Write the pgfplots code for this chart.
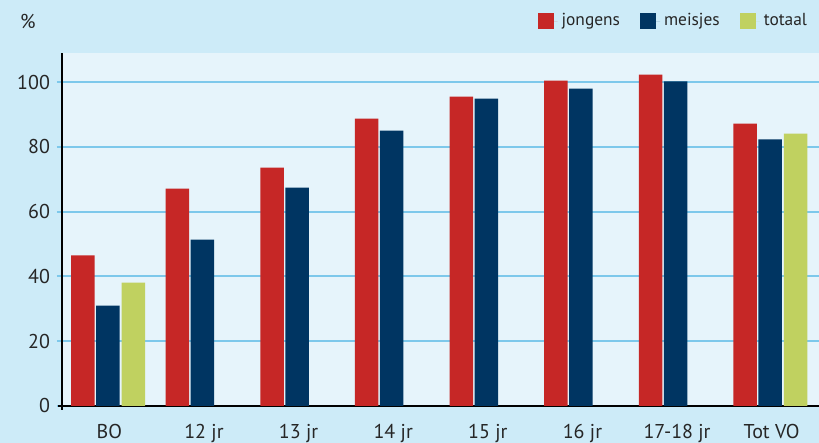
\documentclass[border=0pt]{standalone}
\usepackage{pgfplots}
\pgfplotsset{compat=1.18}
\usepackage{fontspec}
\setmainfont{PT Sans}
\definecolor{outerbg}{RGB}{205,235,248}
\definecolor{innerbg}{RGB}{230,244,251}
\definecolor{gridblue}{RGB}{125,200,235}
\definecolor{cred}{RGB}{198,39,38}
\definecolor{cnavy}{RGB}{0,53,98}
\definecolor{cgreen}{RGB}{192,209,96}
\begin{document}
\begin{tikzpicture}
\useasboundingbox (0,0) rectangle (409.5pt,221.5pt);
\fill[outerbg] (0,0) rectangle (409.5pt,221.5pt);
\begin{axis}[
  at={(31pt,18.5pt)}, anchor=south west,
  scale only axis, width=378.5pt, height=176.5pt,
  xmin=-0.5, xmax=7.5, ymin=0, ymax=109,
  axis background/.style={fill=innerbg},
  axis x line*=bottom, axis y line*=left,
  axis line style={black, line width=1pt, -, shorten <=-2pt},
  ybar, bar width=11.75pt,
  ytick={0,20,40,60,80,100},
  ymajorgrids, grid style={gridblue, line width=1pt},
  y tick style={gridblue, line width=1pt},
  tick align=outside, major tick length=2.5pt,
  xtick={0,...,7},
  xticklabels={BO,12 jr,13 jr,14 jr,15 jr,16 jr,17-18 jr,Tot VO},
  x tick style={draw=none},
  extra x ticks={0.5,1.5,2.5,3.5,4.5,5.5,6.5},
  extra x tick labels={},
  extra x tick style={grid=none, tick align=inside, major tick length=4.5pt,
     tick style={draw=black, line width=0.8pt}},
  ticklabel style={font=\fontsize{10}{12}\selectfont, text=black!85},
  xticklabel style={yshift=-3pt},
  /pgf/number format/assume math mode=true,
  clip=false,
  legend columns=3,
  legend style={at={(rel axis cs:0.998,1.09)}, anchor=east, draw=none, fill=none,
     font=\fontsize{8.7}{10}\selectfont, text=black!85,
     /tikz/every even column/.append style={column sep=8pt}},
  legend image code/.code={\fill[#1, draw=none] (0pt,-4pt) rectangle (8pt,4pt);
     \path (8pt,0pt) -- (10pt,0pt);},
]
\addplot[fill=cred, draw=none, bar shift=-13.25pt] coordinates {
 (0,46.5) (1,67.1) (2,73.6) (3,88.7) (4,95.5) (5,100.5) (6,102.3) (7,87.2)};
\addlegendentry{jongens}
\addplot[fill=cnavy, draw=none, bar shift=-0.75pt] coordinates {
 (0,31.0) (1,51.4) (2,67.4) (3,85.0) (4,94.9) (5,98.0) (6,100.2) (7,82.3)};
\addlegendentry{meisjes}
\addplot[fill=cgreen, draw=none, bar shift=12.0pt] coordinates {
 (0,38.1) (7,84.1)};
\addlegendentry{totaal}
\node[font=\fontsize{10}{12}\selectfont, text=black!85] at (rel axis cs:-0.045,1.088) {\%};
\end{axis}
\end{tikzpicture}
\end{document}
